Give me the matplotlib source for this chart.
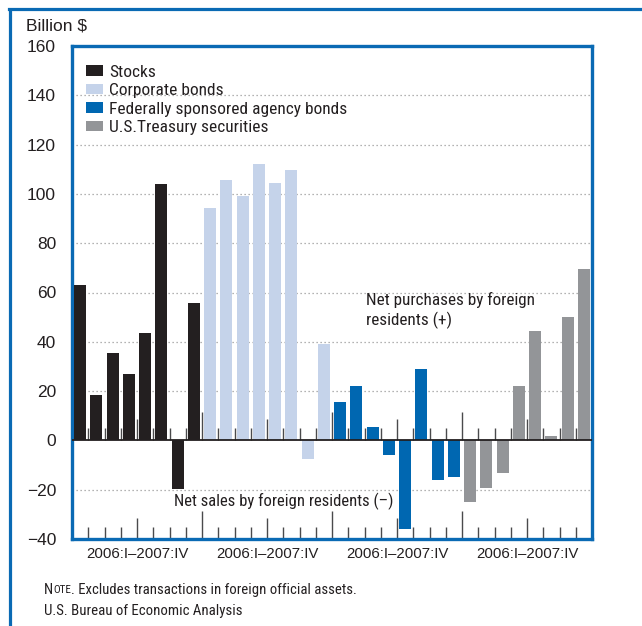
import matplotlib
matplotlib.use("Agg")
import matplotlib.pyplot as plt
from matplotlib.lines import Line2D
from matplotlib import font_manager as fm
import numpy as np

# ---------------- data ----------------
series_names = ["Stocks", "Corporate bonds", "Federally sponsored agency bonds",
                "U.S.Treasury securities"]
stocks = [63.1, 18.4, 35.5, 27.0, 43.6, 104.2, -19.6, 55.8]
corporate_bonds = [94.4, 105.8, 99.3, 112.3, 104.6, 109.5, -7.5, 39.2]
agency_bonds = [15.6, 22.1, 5.4, -5.8, -35.9, 29.0, -16.1, -14.9]
treasury = [-24.9, -19.4, -13.1, 22.1, 44.4, 1.8, 50.1, 69.6]
group_labels = ["2006:I\u20132007:IV"] * 4
yticks = [-40, -20, 0, 20, 40, 60, 80, 100, 120, 140, 160]
ytick_labels = ["\u221240", "\u221220", "0", "20", "40", "60", "80", "100", "120", "140", "160"]

colors = ["#231f20", "#c5d3ea", "#0067b1", "#939598"]
border_blue = "#0a6ab4"
text_col = "#231f20"

names = set(f.name for f in fm.fontManager.ttflist)
narrow = "Liberation Sans"
for cand in ["Liberation Sans Narrow", "Roboto Condensed", "Archivo Narrow", "PT Sans Narrow"]:
    if cand in names:
        narrow = cand
        break
regular = "Liberation Sans"

W, H = 642, 626
fig = plt.figure(figsize=(W / 100, H / 100), dpi=100)
ax = fig.add_axes([72 / W, 1 - 539 / H, (592 - 72) / W, (539 - 46) / H])

all_series = [stocks, corporate_bonds, agency_bonds, treasury]
n_q = len(stocks)
for g, vals in enumerate(all_series):
    x = np.arange(n_q) + g * n_q + 0.5
    ax.bar(x, vals, width=0.74, color=colors[g], zorder=3, label=series_names[g])

ax.set_xlim(0, 4 * n_q)
ax.set_ylim(-40, 160)

# grid lines
for yv in yticks:
    if yv in (0, -40, 160):
        continue
    ax.axhline(yv, color="#9a9a9a", lw=0.9, ls=(0, (1, 2.2)), zorder=1)
ax.axhline(0, color="#231f20", lw=1.3, zorder=4)

# tick marks at zero line and bottom
for k in range(1, 4 * n_q):
    if k % 8 == 0:
        h = 11.5
    elif k % 4 == 0:
        h = 8.5
    else:
        h = 5
    ax.plot([k, k], [0, h], color="#4a4a4c", lw=1.0, zorder=2, solid_capstyle="butt")
    ax.plot([k, k], [-40, -40 + h], color="#4a4a4c", lw=1.0, zorder=2, solid_capstyle="butt")

ax.set_yticks(yticks)
ax.set_yticklabels(ytick_labels, fontsize=12.5, family=regular, color=text_col)
ax.tick_params(axis="y", length=0, pad=11.5)
ax.set_xticks([g * n_q + n_q / 2 for g in range(4)])
ax.set_xticklabels(group_labels, fontsize=10.8, family=regular, color=text_col)
ax.tick_params(axis="x", length=0, pad=6)
for s in ax.spines.values():
    s.set_color(border_blue)
    s.set_linewidth(2.4)

leg = ax.legend(loc="upper left", bbox_to_anchor=(0.0, 0.99), frameon=False,
                prop={"family": narrow, "size": 12.5}, handlelength=1.0, handleheight=0.55,
                handletextpad=0.35, labelspacing=0.2, borderaxespad=0.4)
for t in leg.get_texts():
    t.set_color(text_col)

ax.text(18.1, 52.8, "Net purchases by foreign\nresidents (+)", family=narrow, fontsize=12.3,
        color=text_col, ha="left", va="center", linespacing=1.25, zorder=5)
ax.text(6.3, -24.8, "Net sales by foreign residents (\u2013)", family=narrow, fontsize=12.0,
        color=text_col, ha="left", va="center", zorder=5)

fig.text(26 / W, 1 - 26 / H, "Billion $", family=regular, fontsize=12.5, color=text_col,
         ha="left", va="center")

# note with small caps
fig.canvas.draw()
r = fig.canvas.get_renderer()
x0 = 44 / W
yN = 1 - 590 / H
t1 = fig.text(x0, yN, "N", family=narrow, fontsize=10.6, color=text_col, va="center")
bb = t1.get_window_extent(r)
t2 = fig.text(bb.x1 / W, yN, "OTE", family=narrow, fontsize=8.0, color=text_col, va="center")
bb2 = t2.get_window_extent(r)
fig.text(bb2.x1 / W, yN, ". Excludes transactions in foreign official assets.", family=narrow,
         fontsize=10.6, color=text_col, va="center")
fig.text(x0, 1 - 611 / H, "U.S. Bureau of Economic Analysis", family=narrow, fontsize=10.7,
         color=text_col, va="center")

# outer border (top and left)
fig.add_artist(Line2D([8.5 / W, 1.0], [1 - 9 / H, 1 - 9 / H], transform=fig.transFigure,
                      color=border_blue, lw=2.3, solid_capstyle="projecting"))
fig.add_artist(Line2D([10 / W, 10 / W], [1 - 9 / H, 0], transform=fig.transFigure,
                      color=border_blue, lw=2.3, solid_capstyle="butt"))

fig.savefig("out.png", dpi=100)
